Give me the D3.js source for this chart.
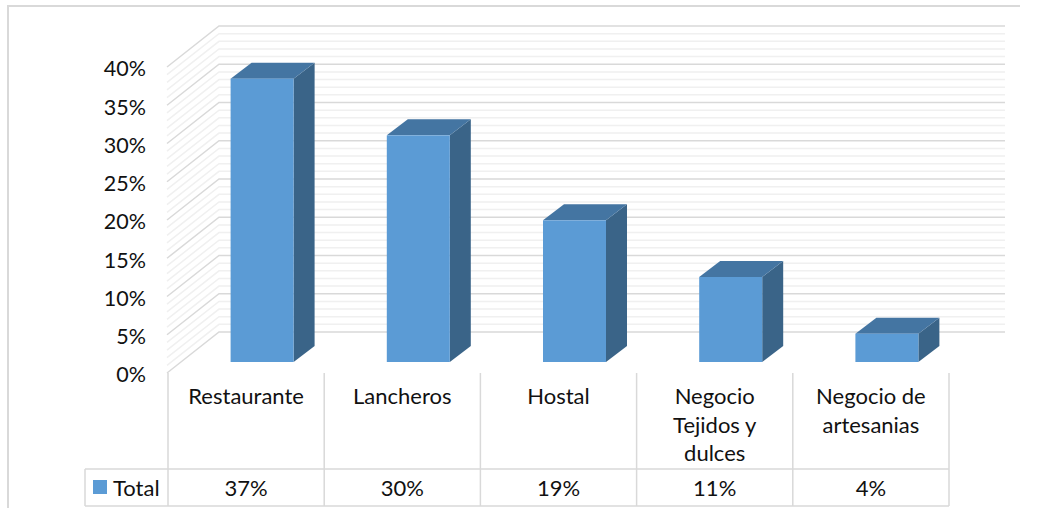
<!DOCTYPE html>
<html>
<head>
<meta charset="utf-8">
<script src="https://cdn.jsdelivr.net/npm/d3@7"></script>
<style>
html, body { margin: 0; padding: 0; background: #fff; }
svg { display: block; }
text { font-family: Lato, "Open Sans", sans-serif; fill: #111; }
</style>
</head>
<body>
<div id="container"></div>
<script>
var categories = ["Restaurante", "Lancheros", "Hostal", "Negocio Tejidos y dulces", "Negocio de artesanias"];
var categoryLines = [["Restaurante"], ["Lancheros"], ["Hostal"], ["Negocio", "Tejidos y", "dulces"], ["Negocio de", "artesanias"]];
var values = [37.04, 29.63, 18.52, 11.11, 3.7];
var seriesName = ["Total"];
var yTicks = [0, 5, 10, 15, 20, 25, 30, 35, 40];
var minorTicks = d3.range(0, 40.01, 1);

var width = 1047,
	height = 508,
	depthX = 52,
	depthY = 41,
	barDepthX = 21,
	barDepthY = 16,
	barFloat = 11,
	barShift = 16,
	tableRight = 949;

var svg = d3.select("#container")
	.append("svg")
		.attr("width", width)
		.attr("height", height);

var yScale = d3.scaleLinear()
	.domain([0, 40])
	.range([373, 67]);

var xScale = d3.scaleBand()
	.domain(categories)
	.range([168, tableRight])
	.paddingInner(0)
	.paddingOuter(0);

var barWidth = 63;

// outer frame
svg.append("path")
	.attr("d", "M8," + height + "V6H1020")
	.attr("fill", "none")
	.attr("stroke", "#d9d9d9")
	.attr("stroke-width", 2);

// grid, minor first so the major lines sit on top
function drawGrid(ticks, colour, w) {
	var g = svg.append("g")
		.attr("fill", "none")
		.attr("stroke", colour)
		.attr("stroke-width", w);
	g.selectAll("path")
		.data(ticks)
		.enter().append("path")
		.attr("d", function(d){
			var y = yScale(d);
			return "M167," + y + "L" + (167 + depthX) + "," + (y - depthY) + "H1005";
		});
}
drawGrid(minorTicks.filter(function(d){ return d % 5 != 0 }), "#f0f0f0", 1.5);
drawGrid(yTicks, "#d9d9d9", 1.5);

// bars: side, top, front
var bars = svg.append("g")
	.selectAll("g")
	.data(values)
	.enter().append("g");

function barX(i) {
	return xScale(categories[i]) + (xScale.bandwidth() - barWidth) / 2 + barShift;
}
function barTop(d) {
	return yScale(d) - barFloat;
}
var barBase = yScale(0) - barFloat;

bars.append("path")
	.attr("fill", "#3a6488")
	.attr("d", function(d, i){
		var x = barX(i) + barWidth;
		return "M" + x + "," + barTop(d) + "l" + barDepthX + "," + (-barDepthY) +
			"V" + (barBase - barDepthY) + "l" + (-barDepthX) + "," + barDepthY + "Z";
	});

bars.append("path")
	.attr("fill", "#4475a2")
	.attr("d", function(d, i){
		var x = barX(i);
		return "M" + x + "," + barTop(d) + "l" + barDepthX + "," + (-barDepthY) +
			"h" + barWidth + "l" + (-barDepthX) + "," + barDepthY + "Z";
	});

bars.append("rect")
	.attr("fill", "#5b9bd5")
	.attr("x", function(d, i){ return barX(i) })
	.attr("y", barTop)
	.attr("width", barWidth)
	.attr("height", function(d){ return barBase - barTop(d) });

// y axis labels
var yAxis = d3.axisLeft(yScale)
	.tickValues(yTicks)
	.tickSize(0)
	.tickPadding(21)
	.tickFormat(function(d){ return d + "%" });

var axisG = svg.append("g")
	.attr("transform", "translate(167,2)")
	.call(yAxis);
axisG.select(".domain").remove();
axisG.selectAll("text")
	.style("font-size", "21.5px")
	.style("font-family", "Lato");

// data table
var tableTop = 373,
	rowTop = 469,
	rowBottom = 506,
	tableLeft = 85;

var edges = categories.map(function(c){ return xScale(c) }).concat([tableRight]);

svg.append("g")
	.selectAll("line")
	.data(edges)
	.enter().append("line")
	.attr("x1", function(d){ return d })
	.attr("x2", function(d){ return d })
	.attr("y1", tableTop)
	.attr("y2", rowBottom)
	.attr("stroke", "#d9d9d9")
	.attr("stroke-width", 1.5);

svg.append("path")
	.attr("d", "M" + tableLeft + "," + rowTop + "H" + tableRight + "M" + tableLeft + "," + rowBottom + "H" + tableRight + "M" + tableLeft + "," + rowTop + "V" + rowBottom)
	.attr("fill", "none")
	.attr("stroke", "#d9d9d9")
	.attr("stroke-width", 1.5);

var labels = svg.append("g")
	.selectAll("text")
	.data(categoryLines)
	.enter().append("text")
	.attr("text-anchor", "middle")
	.style("font-size", "22px")
	.attr("transform", function(d, i){
		return "translate(" + (xScale(categories[i]) + xScale.bandwidth() / 2) + ",404)";
	});

labels.selectAll("tspan")
	.data(function(d){ return d })
	.enter().append("tspan")
	.attr("x", 0)
	.attr("y", function(d, i){ return i * 28.5 })
	.text(function(d){ return d });

svg.append("g")
	.selectAll("text")
	.data(values)
	.enter().append("text")
	.attr("text-anchor", "middle")
	.style("font-size", "22px")
	.attr("x", function(d, i){ return xScale(categories[i]) + xScale.bandwidth() / 2 })
	.attr("y", 496)
	.text(function(d){ return Math.round(d) + "%" });

// legend key inside the table
svg.append("rect")
	.attr("x", 93)
	.attr("y", 480)
	.attr("width", 14)
	.attr("height", 14)
	.attr("fill", "#5b9bd5");

svg.append("text")
	.attr("x", 113)
	.attr("y", 496)
	.style("font-size", "22px")
	.text(seriesName[0]);
</script>
</body>
</html>
